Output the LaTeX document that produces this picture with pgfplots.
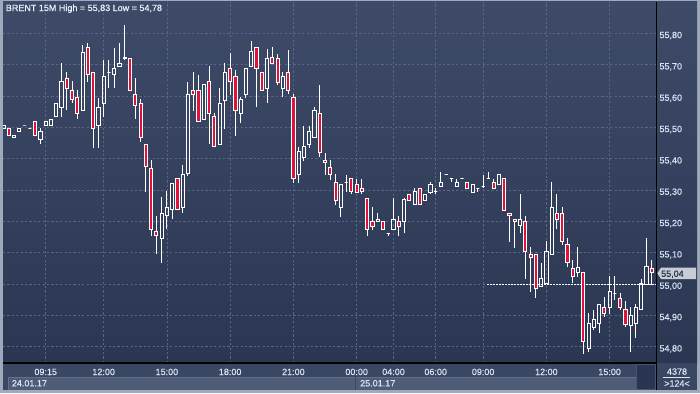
\documentclass[border=0pt]{standalone}
\usepackage{pgfplots}
\pgfplotsset{compat=1.18}
\usepackage{pgfplotstable}
\usepackage{fontspec}
\setmainfont{Liberation Sans}[FakeBold=0.4]
\definecolor{bgtop}{RGB}{62,75,104}
\definecolor{bgbot}{RGB}{42,54,82}
\definecolor{gridc}{RGB}{90,103,132}
\definecolor{candlered}{RGB}{224,18,58}
\definecolor{lbl}{RGB}{218,230,246}
\definecolor{titlec}{RGB}{235,240,250}
\definecolor{framec}{RGB}{158,170,187}
\definecolor{strip}{RGB}{58,71,99}
\definecolor{datebar}{RGB}{78,92,119}
\definecolor{dateedge}{RGB}{98,112,140}
\definecolor{scrollc}{RGB}{42,54,81}
\definecolor{scrolledge}{RGB}{72,85,112}
\definecolor{boxc}{RGB}{200,205,213}
\definecolor{boxtext}{RGB}{34,46,72}
\pgfdeclareplotmark{emptymark}{}

\pgfplotstableread{
i o h l c
0 55.498 55.508 55.498 55.508
1 55.498 55.498 55.476 55.476
2 55.467 55.476 55.467 55.476
3 55.486 55.498 55.486 55.498
4 55.508 55.508 55.508 55.508
5 55.498 55.498 55.498 55.498
6 55.518 55.518 55.476 55.476
7 55.463 55.498 55.447 55.486
8 55.505 55.518 55.505 55.518
9 55.505 55.527 55.505 55.527
10 55.534 55.578 55.534 55.578
11 55.565 55.706 55.534 55.648
12 55.658 55.677 55.556 55.626
13 55.617 55.648 55.578 55.588
14 55.597 55.620 55.527 55.546
15 55.556 55.763 55.556 55.738
16 55.757 55.770 55.645 55.668
17 55.677 55.677 55.435 55.498
18 55.508 55.594 55.435 55.565
19 55.578 55.715 55.534 55.664
20 55.677 55.715 55.626 55.677
21 55.668 55.754 55.626 55.687
22 55.696 55.770 55.696 55.706
23 55.719 55.827 55.715 55.725
24 55.719 55.719 55.617 55.617
25 55.607 55.658 55.527 55.569
26 55.578 55.591 55.454 55.467
27 55.447 55.447 55.294 55.377
28 55.368 55.396 55.154 55.176
29 55.167 55.218 55.096 55.157
30 55.147 55.278 55.068 55.227
31 55.218 55.297 55.176 55.246
32 55.237 55.323 55.208 55.323
33 55.336 55.336 55.237 55.237
34 55.246 55.380 55.227 55.349
35 55.355 55.645 55.345 55.607
36 55.617 55.677 55.553 55.607
37 55.617 55.668 55.518 55.518
38 55.527 55.636 55.527 55.636
39 55.648 55.696 55.447 55.546
40 55.534 55.546 55.438 55.438
41 55.447 55.626 55.447 55.578
42 55.585 55.706 55.495 55.677
43 55.687 55.738 55.604 55.648
44 55.664 55.684 55.473 55.553
45 55.546 55.597 55.514 55.588
46 55.607 55.687 55.594 55.687
47 55.696 55.776 55.696 55.744
48 55.757 55.757 55.565 55.687
49 55.677 55.677 55.617 55.617
50 55.626 55.751 55.578 55.719
51 55.725 55.757 55.706 55.706
52 55.719 55.735 55.636 55.645
53 55.626 55.677 55.597 55.664
54 55.677 55.747 55.607 55.617
55 55.597 55.607 55.323 55.336
56 55.349 55.438 55.323 55.425
57 55.406 55.505 55.393 55.438
58 55.447 55.505 55.435 55.486
59 55.467 55.565 55.467 55.553
60 55.546 55.636 55.406 55.419
61 55.396 55.419 55.349 55.387
62 55.374 55.396 55.333 55.349
63 55.326 55.352 55.253 55.266
64 55.246 55.317 55.214 55.317
65 55.326 55.349 55.294 55.326
66 55.336 55.336 55.288 55.297
67 55.317 55.336 55.294 55.294
68 55.307 55.336 55.288 55.297
69 55.275 55.275 55.154 55.176
70 55.199 55.246 55.173 55.183
71 55.199 55.227 55.199 55.208
72 55.199 55.199 55.176 55.176
73 55.163 55.163 55.154 55.163
74 55.176 55.275 55.176 55.208
75 55.199 55.218 55.154 55.183
76 55.199 55.275 55.163 55.269
77 55.288 55.288 55.266 55.266
78 55.256 55.307 55.256 55.297
79 55.307 55.307 55.256 55.256
80 55.266 55.288 55.266 55.288
81 55.294 55.326 55.288 55.317
82 55.297 55.307 55.288 55.297
83 55.313 55.358 55.313 55.326
84 55.349 55.349 55.349 55.349
85 55.336 55.336 55.326 55.336
86 55.313 55.336 55.313 55.326
87 55.336 55.336 55.336 55.336
88 55.326 55.326 55.307 55.307
89 55.294 55.317 55.294 55.317
90 55.304 55.304 55.294 55.304
91 55.313 55.349 55.307 55.313
92 55.336 55.358 55.336 55.336
93 55.326 55.336 55.307 55.307
94 55.317 55.349 55.317 55.349
95 55.336 55.336 55.234 55.234
96 55.227 55.227 55.135 55.218
97 55.208 55.208 55.116 55.199
98 55.186 55.288 55.163 55.208
99 55.199 55.218 55.017 55.106
100 55.096 55.119 54.975 55.087
101 55.096 55.096 54.956 54.988
102 54.994 55.068 54.994 55.017
103 55.004 55.138 55.004 55.106
104 55.096 55.326 55.096 55.246
105 55.227 55.288 55.176 55.208
106 55.227 55.246 55.125 55.135
107 55.128 55.147 55.055 55.068
108 55.049 55.077 55.004 55.026
109 55.036 55.119 55.023 55.055
110 55.036 55.036 54.777 54.816
111 54.796 54.908 54.784 54.876
112 54.863 54.918 54.854 54.886
113 54.876 54.937 54.844 54.937
114 54.927 54.959 54.895 54.908
115 54.927 55.026 54.905 54.978
116 54.969 55.026 54.950 54.969
117 54.956 54.972 54.918 54.927
118 54.918 54.946 54.863 54.873
119 54.867 54.927 54.784 54.899
120 54.876 54.937 54.828 54.927
121 54.918 55.017 54.918 55.004
122 54.998 55.147 54.998 55.058
123 55.049 55.077 54.998 55.036
}\candles

\begin{document}
\begin{tikzpicture}[font=\fontsize{9bp}{11bp}\selectfont]
\begin{scope}[x=1bp,y=1bp]
\useasboundingbox (0,0) rectangle (700,393);
\fill[framec] (0,0) rectangle (700,393);
\shade[top color=bgtop, bottom color=bgbot] (3,30) rectangle (697,391);
\fill[strip] (3,3) rectangle (697,30);
\fill[datebar] (8,3) rectangle (636,16);
\draw[dateedge, line width=0.8bp] (8,16) -- (636,16);
\draw[dateedge, line width=0.8bp] (8.4,3) -- (8.4,16);
\draw[strip, line width=1bp] (355,3) -- (355,16);
\filldraw[fill=scrollc, draw=scrolledge, line width=0.8bp] (636.5,3.5) rectangle (655.5,29);
\end{scope}

\begin{axis}[
  at={(3bp,30bp)}, anchor=south west,
  scale only axis, width=653.5bp, height=361bp,
  xmin=-0.1, xmax=123.9, ymin=54.7486, ymax=55.9005,
  axis line style={draw=none},
  major tick length=0pt,
  xtick={8,19,31,43,55,67,74,82,91,103,115},
  xticklabels={09:15,12:00,15:00,18:00,21:00,00:00,04:00,06:00,09:00,12:00,15:00},
  ytick={54.8,54.9,55.0,55.1,55.2,55.3,55.4,55.5,55.6,55.7,55.8},
  yticklabel pos=right,
  grid=major,
  grid style={gridc, line width=0.8bp, dash pattern=on 2.2bp off 2.2bp},
  /pgf/number format/fixed,
  /pgf/number format/fixed zerofill,
  /pgf/number format/precision=2,
  /pgf/number format/use comma,
  /pgf/number format/assume math mode=true,
  ticklabel style={font=\fontsize{9bp}{11bp}\selectfont, text=lbl, inner sep=0pt},
  yticklabel style={anchor=base west, xshift=2.8bp, yshift=-4.6bp},
  xticklabel style={anchor=base, yshift=-12bp},
  clip marker paths=true,
]
\addplot[white, line width=0.9bp, dash pattern=on 2bp off 1bp] coordinates {(91.75,55.0) (123.9,55.0)};
\addplot[scatter, only marks, mark=emptymark,
  visualization depends on={\thisrow{c}-\thisrow{o} \as \dC},
  visualization depends on={\thisrow{h}-\thisrow{o} \as \dH},
  visualization depends on={\thisrow{l}-\thisrow{o} \as \dL},
  scatter/@pre marker code/.code={%
    \pgfkeys{/pgf/fpu=false}%
    \pgfmathsetmacro\dT{max(0,\dC)}%
    \pgfmathsetmacro\dB{min(0,\dC)}%
    \draw[white, line width=1bp] (axis direction cs:0,\dT) -- (axis direction cs:0,\dH);
    \draw[white, line width=1bp] (axis direction cs:0,\dB) -- (axis direction cs:0,\dL);
    \pgfmathparse{\dC<0?1:0}%
    \ifnum\pgfmathresult>0
      \filldraw[fill=candlered, draw=white, line width=0.9bp] (axis direction cs:-0.3,0) rectangle (axis direction cs:0.3,\dC);
    \else
      \draw[white, line width=0.9bp] (axis direction cs:-0.3,0) rectangle (axis direction cs:0.3,\dC);
    \fi
  },
  scatter/@post marker code/.code={},
] table[x=i, y=o] {\candles};
\end{axis}

\begin{scope}[x=1bp,y=1bp]
\draw[black, line width=1.1bp] (656.5,391) -- (656.5,3);
\draw[black, line width=1.1bp] (3,30) -- (656.5,30);
\node[anchor=base west, inner sep=0pt, text=titlec] at (5.7,382) {BRENT 15M High = 55,83 Low = 54,78};
\fill[boxc] (657.3,119.7) -- (661,125.3) -- (696,125.3) -- (696,114) -- (661,114) -- cycle;
\node[anchor=base west, inner sep=0pt, text=boxtext] at (661,116.2) {55,04};
\node[anchor=base west, inner sep=0pt, text=lbl] at (11.7,6.6) {24.01.17};
\node[anchor=base west, inner sep=0pt, text=lbl] at (360,6.6) {25.01.17};
\node[anchor=base, inner sep=0pt, text=lbl] at (677,18.3) {4378};
\node[anchor=base, inner sep=0pt, text=lbl] at (677,6.4) {>124<};
\draw[lbl, line width=0.6bp] (663,15.6) -- (690,15.6);
\end{scope}
\end{tikzpicture}
\end{document}
